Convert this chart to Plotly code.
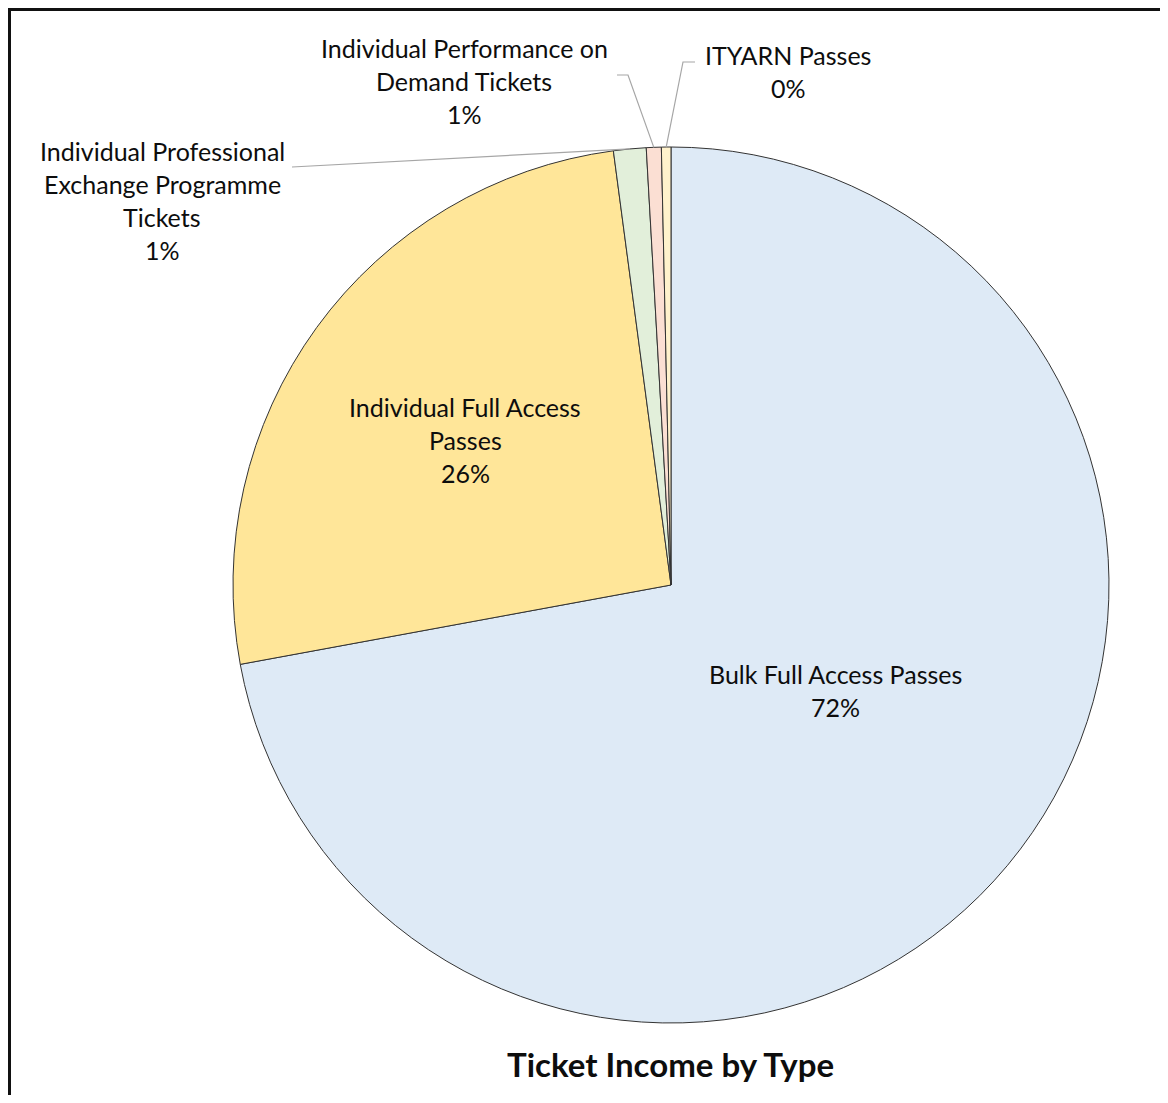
import math
import plotly.graph_objects as go

# ---- data ----
categories = [
    "Bulk Full Access Passes",
    "Individual Full Access Passes",
    "Individual Professional Exchange Programme Tickets",
    "Individual Performance on Demand Tickets",
    "ITYARN Passes",
]
label_lines = [
    ["Bulk Full Access Passes"],
    ["Individual Full Access", "Passes"],
    ["Individual Professional", "Exchange Programme", "Tickets"],
    ["Individual Performance on", "Demand Tickets"],
    ["ITYARN Passes"],
]
values = [72.1, 25.8, 1.2, 0.55, 0.35]
colors = ["#DEEAF6", "#FFE699", "#E2EFDA", "#FBDFD3", "#FFF2CC"]
title_text = "Ticket Income by Type"

# ---- layout geometry (page pixels; page body has an 8px margin) ----
OFF = 8
W, H = 1168 - 2 * OFF, 1103 - 2 * OFF
cx_px, cy_px, r_px = 671, 585, 438
FONT = "Lato, 'Open Sans', sans-serif"
TXT = "#0d0d0d"
LINE_H = 33

def px(x):
    return (x - OFF) / W

def py(y):
    return 1 - (y - OFF) / H

fig = go.Figure(go.Pie(
    labels=categories,
    values=values,
    sort=False,
    direction="clockwise",
    rotation=0,
    marker=dict(colors=colors, line=dict(color="#333333", width=1)),
    textinfo="none",
    hoverinfo="label+percent",
    showlegend=False,
    domain=dict(x=[px(cx_px - r_px), px(cx_px + r_px)],
                y=[py(cy_px + r_px), py(cy_px - r_px)]),
))

total = sum(values)
pcts = [round(v / total * 100) for v in values]

# label anchor centres (pixels): (x, y of first line)
label_pos = [
    (835, 674),
    (465, 407),
    (162, 151),
    (464, 48),
    (788, 55),
]

annotations = []
for lines, pct, (lx, ly) in zip(label_lines, pcts, label_pos):
    all_lines = lines + [f"{pct}%"]
    for i, t in enumerate(all_lines):
        annotations.append(dict(
            x=px(lx), y=py(ly + i * LINE_H), xref="paper", yref="paper",
            text=t, showarrow=False, xanchor="center", yanchor="middle",
            font=dict(family=FONT, size=25, color=TXT),
        ))

annotations.append(dict(
    x=px(670), y=py(1064), xref="paper", yref="paper",
    text=f"<b>{title_text}</b>", showarrow=False,
    xanchor="center", yanchor="middle",
    font=dict(family=FONT, size=33, color="#0d0d0d"),
))

# leader lines to mid-angle of small slices
cum = 0
mids = []
for v in values:
    mids.append((cum + v / 2) / total * 360)
    cum += v

def edge_point(angle_deg):
    a = math.radians(angle_deg)
    return cx_px + r_px * math.sin(a), cy_px - r_px * math.cos(a)

shapes = []
leader_starts = {
    2: [(292, 167)],
    3: [(617, 75), (628, 75)],
    4: [(695, 62), (683, 62)],
}
for idx, pts in leader_starts.items():
    ex, ey = edge_point(mids[idx])
    allp = pts + [(ex, ey)]
    path = "M " + " L ".join(f"{px(x)},{py(y)}" for x, y in allp)
    shapes.append(dict(type="path", path=path, xref="paper", yref="paper",
                       line=dict(color="#a6a6a6", width=1.2)))

# outer frame (left and top edges visible, right/bottom run off the page)
shapes.append(dict(type="rect", xref="paper", yref="paper",
                   x0=px(9.5), y0=-0.05, x1=1.05, y1=py(9.5),
                   line=dict(color="#111111", width=3)))

fig.update_layout(
    width=W, height=H,
    margin=dict(l=0, r=0, t=0, b=0),
    paper_bgcolor="white", plot_bgcolor="white",
    annotations=annotations,
    shapes=shapes,
)

fig.write_html("out.html")
